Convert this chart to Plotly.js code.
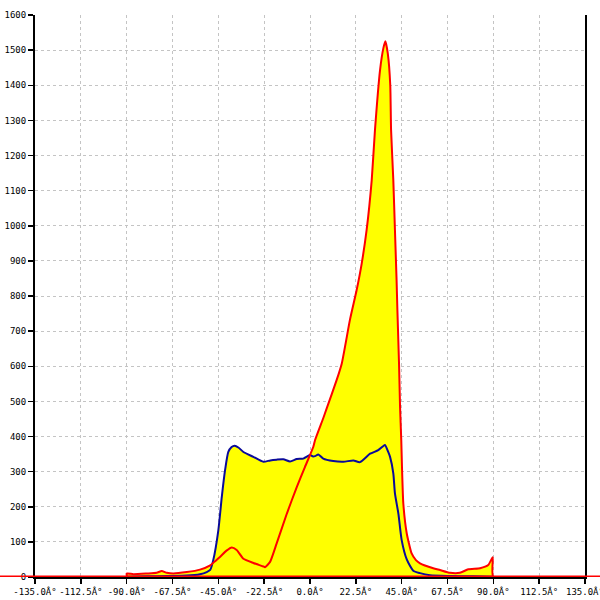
<!DOCTYPE html>
<html>
<head>
<meta charset="utf-8">
<script src="https://cdn.plot.ly/plotly-3.0.1.min.js"></script>
<style>html,body{margin:0;padding:0;background:#fff;}#chart{width:600px;height:600px;}</style>
</head>
<body>
<div id="chart"></div>
<script>
// Red series (angle in degrees, value)
const redX = [-135, -90, -90, -86.7, -80.2, -75.3, -72.8, -70.3, -67.1, -60.5, -54, -49, -46.6, -44.2, -41, -38.4, -36, -32.7, -27.8, -22.9, -22.1, -19.6, -16.4, -11.4, -6.5, -2.5, 1.6, 2.5, 6.5, 8.2, 13.1, 15.6, 19.6, 22.9, 25.4, 27.8, 30.3, 31.9, 34.4, 36.0, 37.0, 38.2, 39.4, 39.8, 40.9, 41.7, 42.5, 42.9, 43.7, 44.2, 44.8, 45.2, 45.8, 47.5, 49.9, 52, 54, 60.5, 63.8, 68.7, 73.6, 77.7, 83.5, 87.5, 89.7, 90, 135];
const redY = [0, 0, 10, 8, 10, 12, 17, 12, 10, 14, 21, 33, 45, 57, 75, 84, 77, 52, 40, 30, 28, 43, 95, 180, 256, 313, 370, 390, 452, 480, 561, 608, 732, 817, 893, 988, 1130, 1273, 1444, 1505, 1525, 1490, 1400, 1273, 1130, 988, 846, 760, 608, 485, 390, 305, 210, 124, 67, 48, 39, 25, 20, 12, 12, 22, 25, 34, 56, 0, 0];

// Blue series
const blueX = [-90, -80, -70, -60.5, -54, -50.7, -49, -47.5, -45, -43.3, -41.7, -40.1, -38.5, -37, -35, -32.7, -27.8, -22.9, -19.5, -16.4, -13.1, -9.8, -6.5, -3.3, 0, 1.5, 2.5, 4.1, 6.5, 11.4, 16.4, 21.3, 24.5, 29.5, 33.5, 36, 36.8, 38.4, 39.3, 40.9, 41.7, 43.4, 45, 47.5, 50.7, 54, 58.9, 68.7, 80, 90];
const blueY = [1, 2, 3, 4, 8, 14, 20, 48, 133, 228, 304, 356, 370, 374, 368, 356, 342, 328, 332, 334, 335, 329, 336, 337, 347, 343, 344, 349, 337, 330, 328, 332, 327, 351, 361, 373, 376, 356, 342, 295, 238, 180, 105, 50, 18, 11, 5, 3, 2, 1];

const xTickVals = [-135, -112.5, -90, -67.5, -45, -22.5, 0, 22.5, 45, 67.5, 90, 112.5, 135];
const xTickText = ["-135.0Â°", "-112.5Â°", "-90.0Â°", "-67.5Â°", "-45.0Â°", "-22.5Â°", "0.0Â°", "22.5Â°", "45.0Â°", "67.5Â°", "90.0Â°", "112.5Â°", "135.0Â°"];
const yTickVals = [0, 100, 200, 300, 400, 500, 600, 700, 800, 900, 1000, 1100, 1200, 1300, 1400, 1500, 1600];

const RED = "#ff0000", BLUE = "#0a0a9a", YELLOW = "#ffff00";
const redShape = {shape: "spline", smoothing: 0.5};
const blueShape = {shape: "spline", smoothing: 0.6};

const traces = [
  {x: redX, y: redY, type: "scatter", mode: "lines", fill: "tozeroy", fillcolor: YELLOW, line: Object.assign({width: 0, color: YELLOW}, redShape), hoverinfo: "skip"},
  {x: blueX, y: blueY, type: "scatter", mode: "lines", fill: "tozeroy", fillcolor: YELLOW, line: Object.assign({width: 0, color: YELLOW}, blueShape), hoverinfo: "skip"},
  {x: blueX, y: blueY, type: "scatter", mode: "lines", line: Object.assign({width: 2, color: BLUE}, blueShape)},
  {x: redX, y: redY, type: "scatter", mode: "lines", line: Object.assign({width: 2, color: RED}, redShape)}
];

const tickFont = {family: "DejaVu Sans Mono", size: 9, color: "#000"};
const layout = {
  width: 600, height: 600,
  margin: {l: 35, r: 15, t: 15, b: 23, pad: 0},
  paper_bgcolor: "#fff", plot_bgcolor: "#fff",
  showlegend: false,
  xaxis: {
    range: [-135, 135], tickvals: xTickVals, ticktext: xTickText,
    showgrid: true, gridcolor: "#c4c4c4", griddash: "3px,3px", gridwidth: 1,
    zeroline: false, showline: true, linecolor: "#000", linewidth: 2,
    ticks: "outside", ticklen: 5, tickwidth: 1.5, tickcolor: "#000",
    tickfont: tickFont, ticklabeloverflow: "allow", fixedrange: true
  },
  yaxis: {
    range: [0, 1600], tickvals: yTickVals,
    showgrid: true, gridcolor: "#c4c4c4", griddash: "3px,3px", gridwidth: 1,
    zeroline: false, showline: true, mirror: true, linecolor: "#000", linewidth: 2,
    ticks: "outside", ticklen: 5, tickwidth: 1.5, tickcolor: "#000",
    tickfont: tickFont, ticklabeloverflow: "allow", fixedrange: true
  },
  shapes: [
    {type: "line", xref: "paper", yref: "y", x0: -0.08, x1: 1.04, y0: 0, y1: 0, line: {color: RED, width: 3}, layer: "above"}
  ]
};

Plotly.newPlot("chart", traces, layout, {displayModeBar: false, staticPlot: true});
</script>
</body>
</html>
